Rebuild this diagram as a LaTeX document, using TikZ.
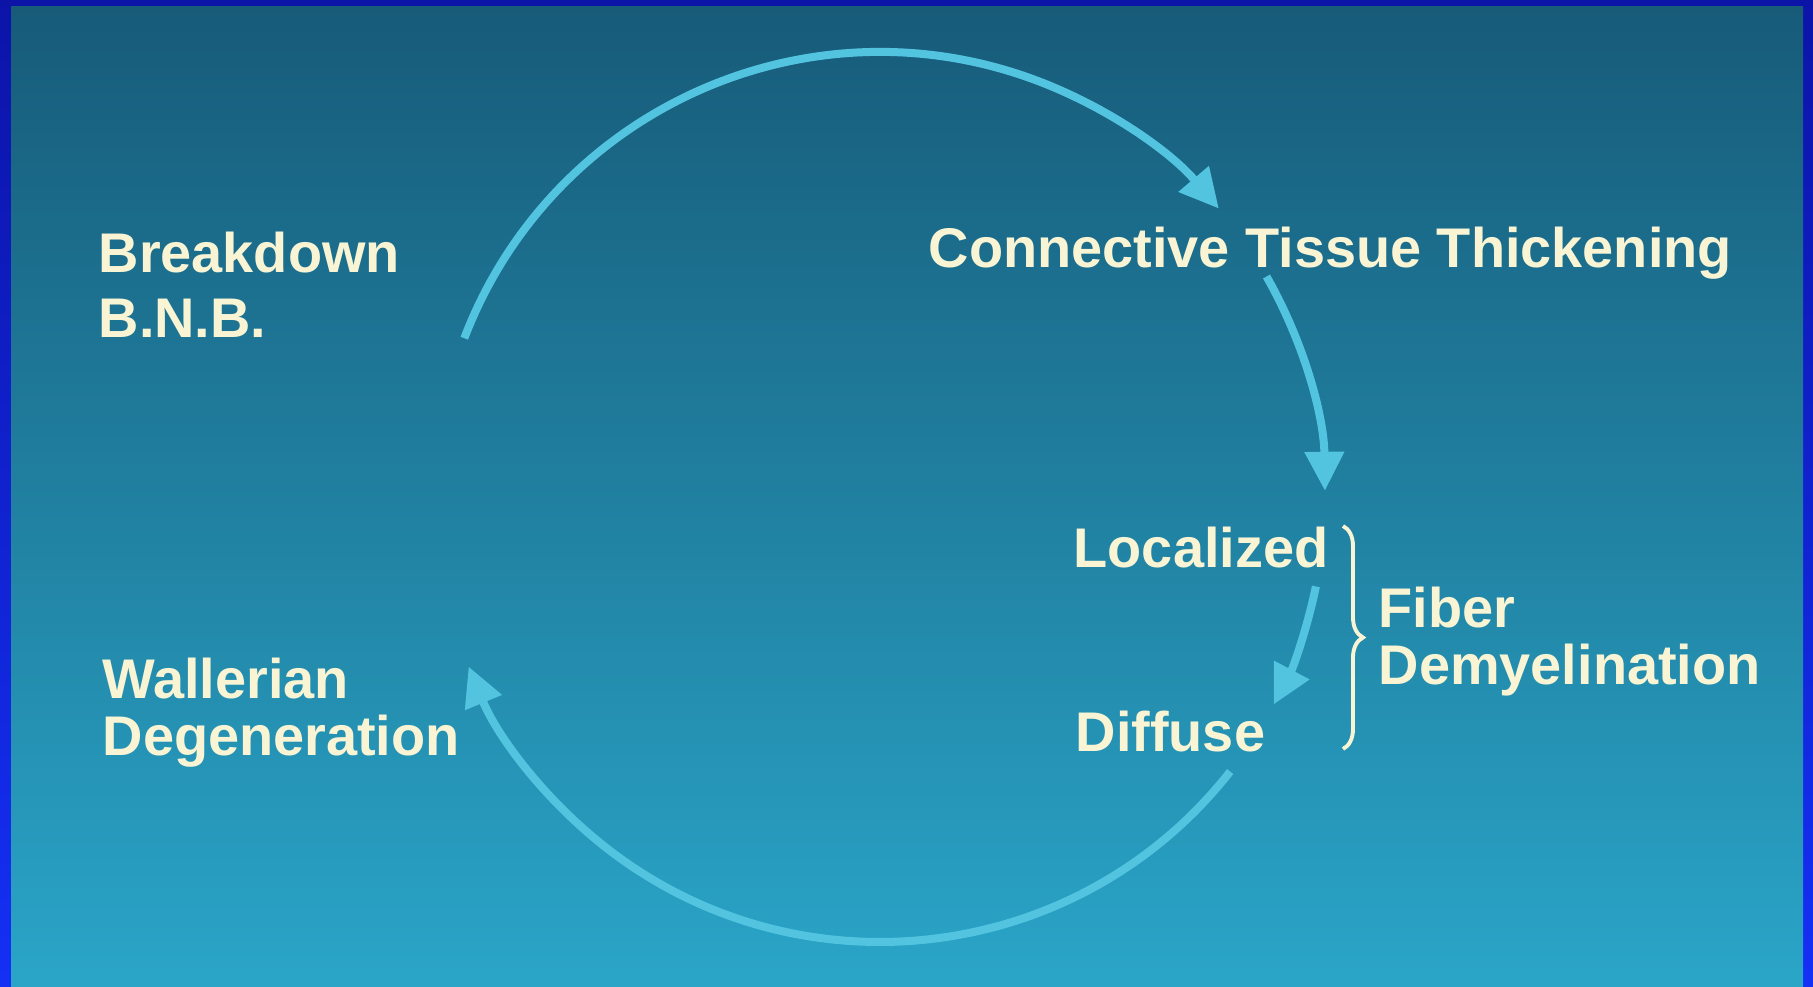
\documentclass[tikz,border=0pt]{standalone}
\usepackage{fontspec}
\setmainfont{Liberation Sans}
\usepackage{tikz}
\usetikzlibrary{arrows.meta,calc,positioning,decorations.pathreplacing}
\definecolor{frameblue}{HTML}{0C14A8}
\definecolor{framebright}{HTML}{1430F5}
\definecolor{slidetop}{HTML}{175B79}
\definecolor{slidemid}{HTML}{2392B8}
\definecolor{slidebottom}{HTML}{2AA5C8}
\definecolor{arrowcyan}{HTML}{52C4E0}
\definecolor{slidecream}{HTML}{F8F4D4}
\tikzset{
  cyclearrow/.style={-{Triangle[length=3.9mm,width=3.8mm]},line width=0.8mm,arrowcyan},
  slidetext/.style={text=slidecream,font=\bfseries\fontsize{15.9}{18.5}\selectfont,align=left,inner sep=0pt,anchor=north west},
  pairtext/.style={slidetext,font=\bfseries\fontsize{15.9}{16.2}\selectfont},
  bracket/.style={decorate,decoration={brace,amplitude=2mm},line width=1.1pt,slidecream}
}

\begin{document}
\begin{tikzpicture}[x=0.1mm,y=-0.1mm]
  \useasboundingbox (0,0) rectangle (1813,987);
  \fill[top color=frameblue,bottom color=framebright] (0,0) rectangle (1813,987);
  \fill[top color=slidetop,middle color=slidemid,bottom color=slidebottom] (11,7) rectangle (1803,987);

  \node[slidetext] (bnb) at (98,231) {Breakdown\\B.N.B.};
  \node[slidetext] (ctt) at (928,226) {Connective Tissue Thickening};
  \node[slidetext] (loc) at (1073,526) {Localized};
  \node[slidetext,below right=14.2mm and 0.2mm of loc.south west] (dif) {Diffuse};
  \node[pairtext] (fib) at (1378,586) {Fiber\\Demyelination};
  \node[pairtext] (wal) at (102,657) {Wallerian\\Degeneration};

  \draw[bracket] (1343,526) -- (1343,749);

  \coordinate (ctr) at (880,497);
  \coordinate (a1) at ($(ctr)+(159.1:44.5mm)$);
  \coordinate (a2) at ($(ctr)+(29.7:44.5mm)$);
  \coordinate (a3) at ($(ctr)+(-11.6:44.5mm)$);
  \coordinate (a4) at ($(ctr)+(-38.1:44.5mm)$);
  \draw[cyclearrow] (a1) arc[start angle=159.1,end angle=40.4,radius=44.5mm];
  \draw[cyclearrow] (a2) arc[start angle=29.7,end angle=0.8,radius=44.5mm];
  \draw[cyclearrow] (a3) arc[start angle=-11.6,end angle=-27.8,radius=44.5mm];
  \draw[cyclearrow] (a4) arc[start angle=-38.1,end angle=-157.6,radius=44.5mm];
\end{tikzpicture}
\end{document}
